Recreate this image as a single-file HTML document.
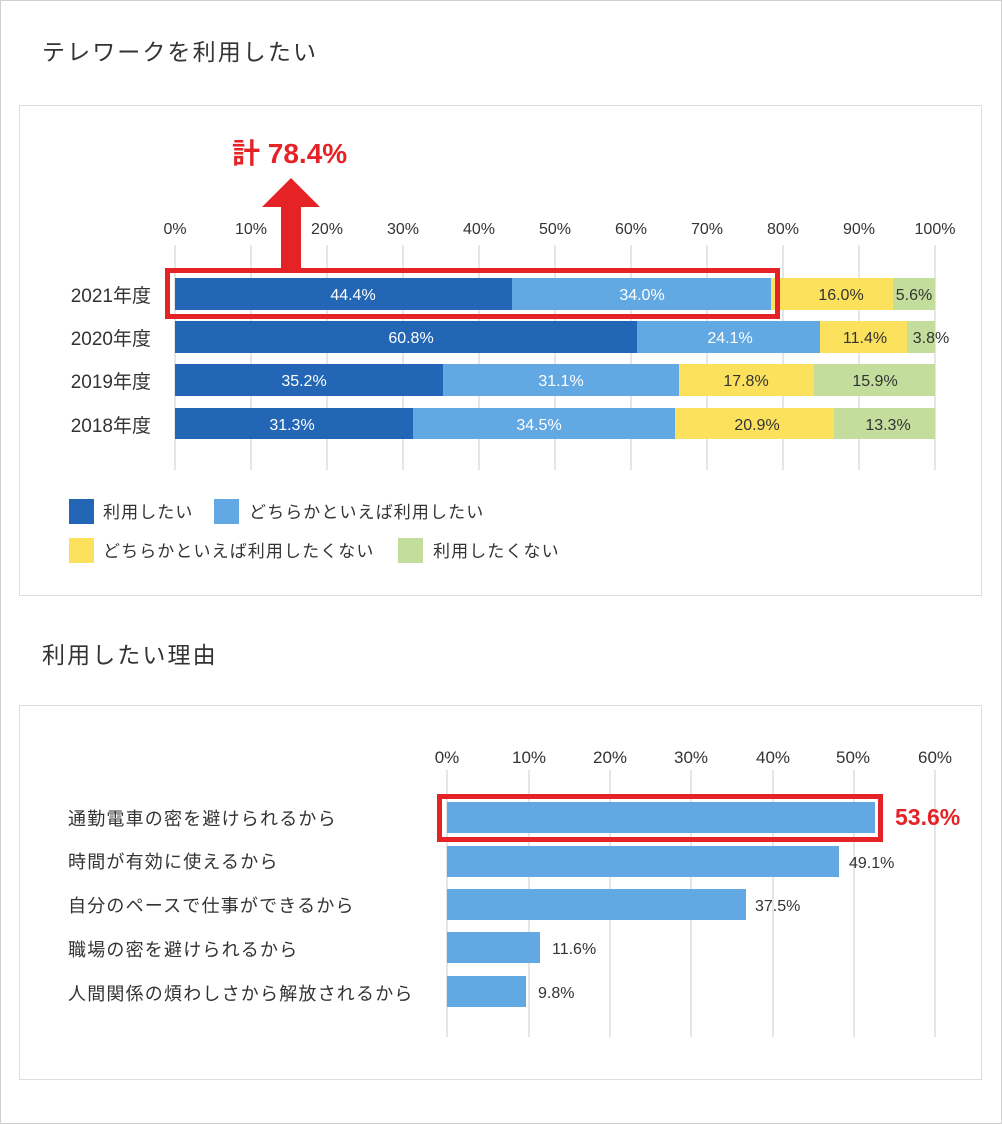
<!DOCTYPE html>
<html><head><meta charset="utf-8"><style>
body{margin:0;background:#fff}
svg{display:block;font-family:"Liberation Sans","Noto Sans CJK JP",sans-serif}
</style></head><body>
<svg width="1002" height="1124" viewBox="0 0 1002 1124">
<rect x="0.5" y="0.5" width="1001" height="1123" fill="#fff" stroke="#d0d0d0"/>
<text x="42" y="60" font-size="23" fill="#333" letter-spacing="2.1">テレワークを利用したい</text>
<rect x="19.5" y="105.5" width="962" height="490" fill="#fff" stroke="#ddd"/>
<text x="42" y="663" font-size="23" fill="#333" letter-spacing="2.1">利用したい理由</text>
<rect x="19.5" y="705.5" width="962" height="374" fill="#fff" stroke="#ddd"/>

<g stroke="#ccc" stroke-width="1">
<line x1="175" y1="245" x2="175" y2="470"/><line x1="251" y1="245" x2="251" y2="470"/><line x1="327" y1="245" x2="327" y2="470"/><line x1="403" y1="245" x2="403" y2="470"/><line x1="479" y1="245" x2="479" y2="470"/><line x1="555" y1="245" x2="555" y2="470"/><line x1="631" y1="245" x2="631" y2="470"/><line x1="707" y1="245" x2="707" y2="470"/><line x1="783" y1="245" x2="783" y2="470"/><line x1="859" y1="245" x2="859" y2="470"/><line x1="935" y1="245" x2="935" y2="470"/>
</g>
<g font-size="16" fill="#333" text-anchor="middle">
<text x="175" y="234">0%</text><text x="251" y="234">10%</text><text x="327" y="234">20%</text><text x="403" y="234">30%</text><text x="479" y="234">40%</text><text x="555" y="234">50%</text><text x="631" y="234">60%</text><text x="707" y="234">70%</text><text x="783" y="234">80%</text><text x="859" y="234">90%</text><text x="935" y="234">100%</text>
</g>
<g font-size="19" fill="#333" text-anchor="end">
<text x="151" y="302">2021年度</text><text x="151" y="345">2020年度</text><text x="151" y="388">2019年度</text><text x="151" y="432">2018年度</text>
</g>
<g>
<rect x="175" y="278" width="337" height="32" fill="#2266b5"/><rect x="512" y="278" width="259" height="32" fill="#62a8e3"/><rect x="771" y="278" width="122" height="32" fill="#fbe15c"/><rect x="893" y="278" width="42" height="32" fill="#c2dd9c"/>
<rect x="175" y="321" width="462" height="32" fill="#2266b5"/><rect x="637" y="321" width="183" height="32" fill="#62a8e3"/><rect x="820" y="321" width="87" height="32" fill="#fbe15c"/><rect x="907" y="321" width="28" height="32" fill="#c2dd9c"/>
<rect x="175" y="364" width="268" height="32" fill="#2266b5"/><rect x="443" y="364" width="236" height="32" fill="#62a8e3"/><rect x="679" y="364" width="135" height="32" fill="#fbe15c"/><rect x="814" y="364" width="121" height="32" fill="#c2dd9c"/>
<rect x="175" y="408" width="238" height="31" fill="#2266b5"/><rect x="413" y="408" width="262" height="31" fill="#62a8e3"/><rect x="675" y="408" width="159" height="31" fill="#fbe15c"/><rect x="834" y="408" width="101" height="31" fill="#c2dd9c"/>
</g>
<g font-size="16" text-anchor="middle">
<text x="353" y="300" fill="#fff">44.4%</text><text x="642" y="300" fill="#fff">34.0%</text><text x="841" y="300" fill="#333">16.0%</text><text x="914" y="300" fill="#333">5.6%</text>
<text x="411" y="343" fill="#fff">60.8%</text><text x="730" y="343" fill="#fff">24.1%</text><text x="865" y="343" fill="#333">11.4%</text><text x="931" y="343" fill="#333">3.8%</text>
<text x="304" y="386" fill="#fff">35.2%</text><text x="561" y="386" fill="#fff">31.1%</text><text x="746" y="386" fill="#333">17.8%</text><text x="875" y="386" fill="#333">15.9%</text>
<text x="292" y="430" fill="#fff">31.3%</text><text x="539" y="430" fill="#fff">34.5%</text><text x="757" y="430" fill="#333">20.9%</text><text x="888" y="430" fill="#333">13.3%</text>
</g>
<rect x="167.5" y="270.5" width="610" height="46" fill="none" stroke="#e52225" stroke-width="5"/>
<rect x="281" y="205" width="20" height="63" fill="#e52225"/>
<polygon points="291,178 320,207 262,207" fill="#e52225"/>
<text x="232" y="163" font-size="28" font-weight="bold" fill="#e52225">計 78.4%</text>
<g font-size="17" fill="#333" letter-spacing="1.1">
<rect x="69" y="499" width="25" height="25" fill="#2266b5"/><text x="103" y="518">利用したい</text>
<rect x="214" y="499" width="25" height="25" fill="#62a8e3"/><text x="249" y="518">どちらかといえば利用したい</text>
<rect x="69" y="538" width="25" height="25" fill="#fbe15c"/><text x="103" y="557">どちらかといえば利用したくない</text>
<rect x="398" y="538" width="25" height="25" fill="#c2dd9c"/><text x="433" y="557">利用したくない</text>
</g>

<g stroke="#ccc">
<line x1="447" y1="770" x2="447" y2="1037"/><line x1="529" y1="770" x2="529" y2="1037"/><line x1="610" y1="770" x2="610" y2="1037"/><line x1="691" y1="770" x2="691" y2="1037"/><line x1="773" y1="770" x2="773" y2="1037"/><line x1="854" y1="770" x2="854" y2="1037"/><line x1="935" y1="770" x2="935" y2="1037"/>
</g>
<g font-size="17" fill="#333" text-anchor="middle">
<text x="447" y="763">0%</text><text x="529" y="763">10%</text><text x="610" y="763">20%</text><text x="691" y="763">30%</text><text x="773" y="763">40%</text><text x="853" y="763">50%</text><text x="935" y="763">60%</text>
</g>
<g fill="#62a8e3">
<rect x="447" y="802" width="428" height="31"/><rect x="447" y="846" width="392" height="31"/><rect x="447" y="889" width="299" height="31"/><rect x="447" y="932" width="93" height="31"/><rect x="447" y="976" width="79" height="31"/>
</g>
<rect x="439.5" y="796.5" width="441" height="43" fill="none" stroke="#e52225" stroke-width="5"/>
<text x="895" y="825" font-size="23" font-weight="bold" fill="#e52225">53.6%</text>
<g font-size="16" fill="#333">
<text x="849" y="868">49.1%</text><text x="755" y="911">37.5%</text><text x="552" y="954">11.6%</text><text x="538" y="998">9.8%</text>
</g>
<g font-size="18" fill="#333" letter-spacing="1.2">
<text x="68" y="825">通勤電車の密を避けられるから</text>
<text x="68" y="868">時間が有効に使えるから</text>
<text x="68" y="912">自分のペースで仕事ができるから</text>
<text x="68" y="956">職場の密を避けられるから</text>
<text x="68" y="1000">人間関係の煩わしさから解放されるから</text>
</g>
</svg>
</body></html>
